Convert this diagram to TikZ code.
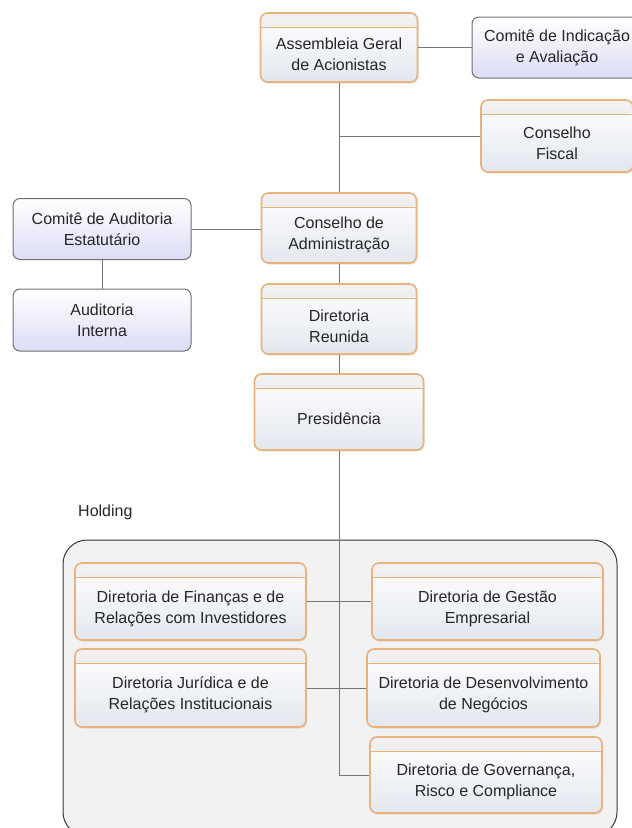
\documentclass[tikz,border=0pt]{standalone}
\usepackage{fontspec}
\setmainfont{Liberation Sans}
\usetikzlibrary{positioning,shadows}

\definecolor{boxedge}{HTML}{E8B27E}
\definecolor{boxlow}{HTML}{E3E7EE}
\definecolor{hdrtop}{HTML}{F2F2F2}
\definecolor{hdrlow}{HTML}{D9DBDE}
\definecolor{cmtedge}{HTML}{6E6E6E}
\definecolor{cmtlow}{HTML}{DCDCF6}
\definecolor{linegray}{HTML}{767676}
\definecolor{holdfill}{HTML}{F2F2F2}
\definecolor{holdedge}{HTML}{3A3A3A}
\definecolor{txt}{HTML}{262626}

\tikzset{
    link/.style={draw=linegray, line width=1pt},
    orgbox/.style={draw=boxedge, line width=1.6pt, rounded corners=7pt,
        top color=white, bottom color=boxlow, text=txt, align=center,
        font=\fontsize{16}{21}\selectfont,
        general shadow={fill=boxedge!60!gray, opacity=.3,
            shadow xshift=1pt, shadow yshift=-1.5pt},
        path picture={
            \shade[top color=hdrtop, bottom color=hdrlow]
                (path picture bounding box.north west) rectangle
                ([yshift=-14.5pt]path picture bounding box.north east);
            \draw[boxedge, line width=1pt]
                ([yshift=-14.5pt]path picture bounding box.north west) --
                ([yshift=-14.5pt]path picture bounding box.north east);
        }},
    cmtbox/.style={draw=cmtedge, line width=1pt, rounded corners=7pt,
        top color=white, bottom color=cmtlow, text=txt, align=center,
        font=\fontsize{16}{21}\selectfont},
    holdbox/.style={draw=holdedge, fill=holdfill, line width=1pt,
        rounded corners=24pt},
}
\newcommand{\hdgap}{\rule{0pt}{26pt}}

\begin{document}
\begin{tikzpicture}[x=1pt,y=-1pt]
    \useasboundingbox (0,0) rectangle (632,828);

    % Holding area.
    \draw[holdbox] (63,540) rectangle (617,836);
    \node[anchor=west, inner sep=0pt, text=txt, font=\fontsize{16}{19}\selectfont] (holdlbl) at (78,512) {Holding};

    % Governance boxes.
    \node[orgbox, minimum width=157pt, minimum height=69pt] (asm) at (339,47.5) {\hdgap Assembleia Geral\\de Acionistas};
    \node[cmtbox, minimum width=170pt, minimum height=61pt] (indic) at (557,47.5) {Comitê de Indicação\\e Avaliação};
    \node[orgbox, minimum width=152pt, minimum height=72pt] (fiscal) at (557,136) {\hdgap Conselho\\Fiscal};
    \node[orgbox, minimum width=155pt, minimum height=70pt] (cadm) at (339,228) {\hdgap Conselho de\\Administração};
    \node[cmtbox, minimum width=178pt, minimum height=61pt] (caud) at (102,229) {Comitê de Auditoria\\Estatutário};
    \node[cmtbox, minimum width=178pt, minimum height=62pt] (audint) at (102,320) {Auditoria\\Interna};
    \node[orgbox, minimum width=155pt, minimum height=70pt] (dirreun) at (339,319) {\hdgap Diretoria\\Reunida};
    \node[orgbox, minimum width=169pt, minimum height=76pt] (pres) at (339,412) {\hdgap Presidência};

    % Holding boxes.
    \node[orgbox, minimum width=231pt, minimum height=77pt] (fin) at (190.5,601.5) {\hdgap Diretoria de Finanças e de\\Relações com Investidores};
    \node[orgbox, minimum width=231pt, minimum height=77pt] (gest) at (487.5,601.5) {\hdgap Diretoria de Gestão\\Empresarial};
    \node[orgbox, minimum width=231pt, minimum height=78pt] (jur) at (190.5,688) {\hdgap Diretoria Jurídica e de\\Relações Institucionais};
    \node[orgbox, minimum width=233pt, minimum height=78pt] (desenv) at (483.5,688) {\hdgap Diretoria de Desenvolvimento\\de Negócios};
    \node[orgbox, minimum width=232pt, minimum height=76pt] (gov) at (486,775) {\hdgap Diretoria de Governança,\\Risco e Compliance};

    % Draw connectors.
    \draw[link] (asm.east) -- (indic.west);
    \draw[link] (asm.south |- fiscal.west) -- (fiscal.west);
    \draw[link] (caud.east) -- (caud.east -| cadm.west);
    \draw[link] (caud) -- (audint);
    \foreach \a/\b in {asm/cadm, cadm/dirreun, dirreun/pres}
        \draw[link] (\a) -- (\b);
    \draw[link] (pres.south) |- (gov.west);
    \draw[link] (fin.east) -- (gest.west);
    \draw[link] (jur.east) -- (desenv.west);
\end{tikzpicture}
\end{document}
